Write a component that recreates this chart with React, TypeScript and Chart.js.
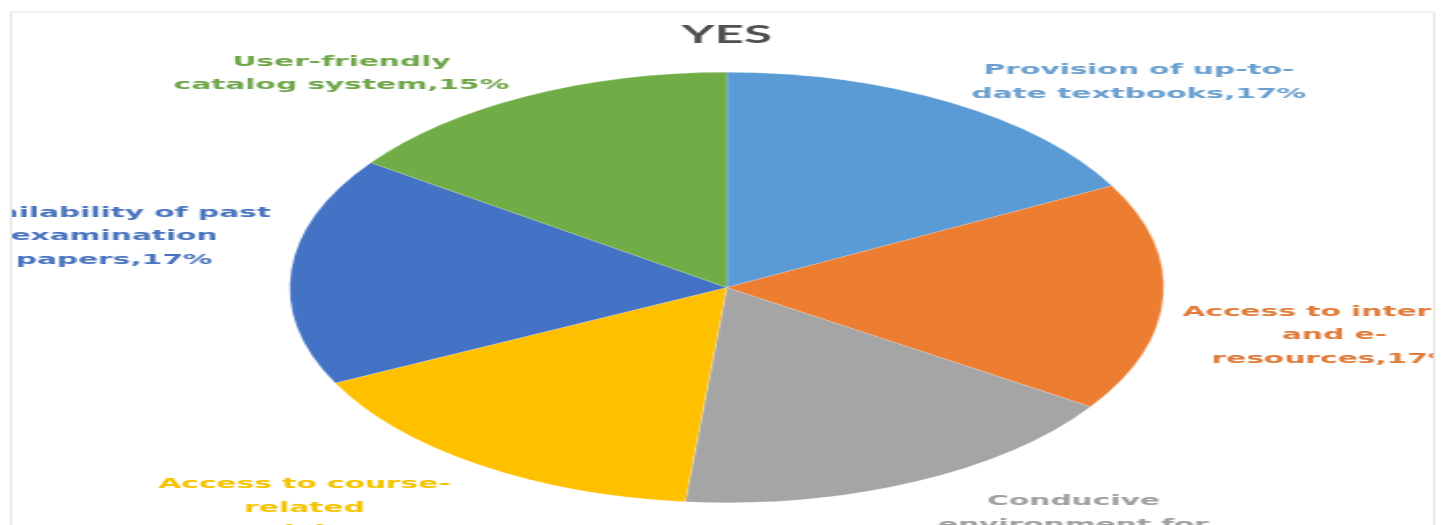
import React, { useEffect, useRef } from "react";
import { Chart, registerables } from "chart.js";

Chart.register(...registerables);

// ---- data ----
const chartTitle = "YES";
const categories: string[][] = [
  ["Provision of up-to-", "date textbooks"],
  ["Access to internet", "and e-", "resources"],
  ["Conducive", "environment for", "learning"],
  ["Access to course-", "related", "materials"],
  ["Availability of past", "examination", "papers"],
  ["User-friendly", "catalog system"],
];
const percentages = [17, 17, 17, 16, 17, 15];

// ---- style ----
const sliceColors = ["#5B9BD5", "#ED7D31", "#A5A5A5", "#FFC000", "#4472C4", "#70AD47"];
const labelColors = ["#6a9fcf", "#e07b3a", "#a0a0a0", "#f5c400", "#4a74bf", "#6fa64a"];
// extra label nudges (px, unstretched canvas space)
const labelNudges: [number, number][] = [
  [0, 3],
  [-0.5, 2.5],
  [1.5, 8],
  [-4, 8],
  [0, 1.5],
  [1.5, 1],
];

const VIEW_W = 1443;
const VIEW_H = 525;
const SX = 2.03;
const CANVAS_W = Math.round(VIEW_W / SX);
const CANVAS_H = VIEW_H;
const BORDER = { l: 5.4, t: 12, r: 706.5 };
const LABEL_GAP = 10;
const LINE_H = 23.5;

const outsideLabels = {
  id: "outsideLabels",
  beforeDraw(chart: any) {
    const ctx = chart.ctx;
    ctx.save();
    ctx.fillStyle = "#ffffff";
    ctx.fillRect(0, 0, chart.width, chart.height);
    ctx.strokeStyle = "#e3e3e3";
    ctx.lineWidth = 1;
    ctx.beginPath();
    ctx.moveTo(BORDER.l, chart.height + 2);
    ctx.lineTo(BORDER.l, BORDER.t);
    ctx.lineTo(BORDER.r, BORDER.t);
    ctx.lineTo(BORDER.r, chart.height + 2);
    ctx.stroke();
    ctx.restore();
  },
  afterDatasetsDraw(chart: any) {
    const ctx = chart.ctx;
    const meta = chart.getDatasetMeta(0);
    ctx.save();
    ctx.beginPath();
    ctx.rect(BORDER.l + 0.5, BORDER.t, BORDER.r - BORDER.l - 1, chart.height);
    ctx.clip();
    ctx.font = "bold 14.6px 'DejaVu Sans'";
    ctx.textAlign = "center";
    ctx.textBaseline = "middle";
    meta.data.forEach((arc: any, i: number) => {
      const p = arc.getProps(["x", "y", "startAngle", "endAngle", "outerRadius"], true);
      const mid = (p.startAngle + p.endAngle) / 2;
      const dx = Math.cos(mid);
      const dy = Math.sin(mid);
      const ex = p.x + dx * p.outerRadius;
      const ey = p.y + dy * p.outerRadius;
      const lines = [...categories[i]];
      lines[lines.length - 1] = lines[lines.length - 1] + "," + percentages[i] + "%";
      const w = Math.max(...lines.map((l) => ctx.measureText(l).width));
      const h = lines.length * LINE_H;
      const cx = ex + Math.sign(dx) * (w / 2 + LABEL_GAP) + labelNudges[i][0];
      const cy = ey + Math.sign(dy) * (h / 2) + labelNudges[i][1];
      ctx.fillStyle = labelColors[i];
      lines.forEach((l, k) => {
        ctx.fillText(l, cx, cy - h / 2 + LINE_H * (k + 0.5));
      });
    });
    ctx.restore();
  },
};

export default function App() {
  const canvasRef = useRef<HTMLCanvasElement | null>(null);

  useEffect(() => {
    if (!canvasRef.current) return;
    const chart = new Chart(canvasRef.current, {
      type: "pie",
      data: {
        labels: categories.map((c) => c.join(" ")),
        datasets: [
          {
            data: percentages,
            backgroundColor: sliceColors,
            borderColor: "rgba(255,255,255,0.35)",
            borderWidth: 0.5,
          },
        ],
      },
      options: {
        responsive: false,
        maintainAspectRatio: false,
        animation: false,
        devicePixelRatio: 1,
        layout: { padding: { top: 0, bottom: 22, left: 5, right: 0 } },
        plugins: {
          legend: { display: false },
          tooltip: { enabled: false },
          title: {
            display: true,
            text: chartTitle,
            color: "#505050",
            font: { family: "Lato", size: 25, weight: "bold" },
            padding: { top: 20, bottom: 22 },
          },
        },
      },
      plugins: [outsideLabels],
    });
    return () => chart.destroy();
  }, []);

  return (
    <div
      style={{
        position: "fixed",
        left: 0,
        top: 0,
        width: VIEW_W,
        height: VIEW_H,
        overflow: "hidden",
        background: "#fff",
      }}
    >
      <canvas
        ref={canvasRef}
        width={CANVAS_W}
        height={CANVAS_H}
        style={{
          width: CANVAS_W,
          height: CANVAS_H,
          transform: `scaleX(${SX})`,
          transformOrigin: "0 0",
          display: "block",
        }}
      />
    </div>
  );
}
